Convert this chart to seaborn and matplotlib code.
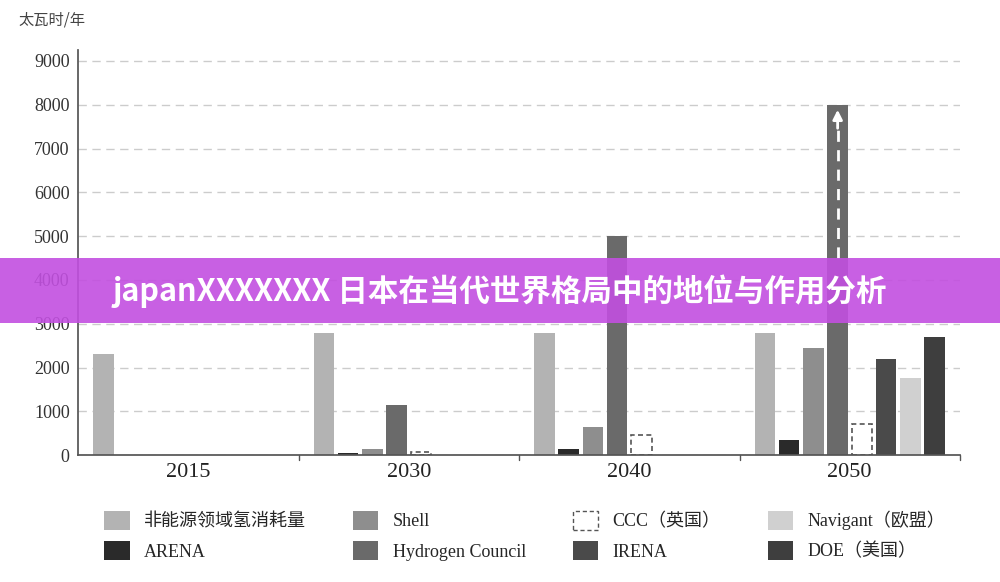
import numpy as np
import pandas as pd
import matplotlib
matplotlib.use('Agg')
import matplotlib.pyplot as plt
import seaborn as sns
from matplotlib.patches import Rectangle, Patch

sns.set_theme(style="white")
plt.rcParams['font.family'] = ['Liberation Serif', 'Noto Sans CJK SC', 'DejaVu Sans']

# data (TWh / year)
years = ["2015", "2030", "2040", "2050"]
series = ["非能源领域氢消耗量", "ARENA", "Shell", "Hydrogen Council",
          "CCC（英国）", "IRENA", "Navigant（欧盟）", "DOE（美国）"]
non_energy = [2300, 2800, 2800, 2800]
arena = [np.nan, 50, 150, 350]
shell = [np.nan, 150, 650, 2450]
hydrogen_council = [np.nan, 1150, 5000, 8000]
ccc = [np.nan, 80, 450, 700]
irena = [np.nan, np.nan, np.nan, 2200]
navigant = [np.nan, np.nan, np.nan, 1750]
doe = [np.nan, np.nan, np.nan, 2700]

values = [non_energy, arena, shell, hydrogen_council, ccc, irena, navigant, doe]
colors = ["#b3b3b3", "#2a2a2a", "#8e8e8e", "#6a6a6a", "#ffffff", "#4a4a4a", "#d0d0d0", "#3e3e3e"]

rows = []
for name, vals in zip(series, values):
    for y, v in zip(years, vals):
        rows.append({"year": y, "series": name, "value": v})
df = pd.DataFrame(rows)
df["value"] = df["value"].fillna(0)

fig = plt.figure(figsize=(10, 5.82), dpi=100)
ax = fig.add_axes([0.078, 0.218, 0.882, 0.696])
ax.set_facecolor("white")

sns.barplot(data=df, x="year", y="value", hue="series", hue_order=series,
            palette=colors, dodge=True, width=0.88, saturation=1,
            legend=False, ax=ax)

ccc_idx = series.index("CCC（英国）")
hc_idx = series.index("Hydrogen Council")
for s, cont in enumerate(ax.containers):
    for bar in cont:
        # leave a small gap between neighbouring bars
        w = bar.get_width()
        bar.set_x(bar.get_x() + w * 0.08)
        bar.set_width(w * 0.84)
        if bar.get_height() == 0:
            bar.set_visible(False)
            continue
        if s == ccc_idx:
            bar.set_facecolor("white")
            bar.set_edgecolor("#555555")
            bar.set_linestyle((0, (3, 2)))
            bar.set_linewidth(1.2)
        else:
            bar.set_edgecolor("none")

# arrow on Hydrogen Council 2050 bar
bar = ax.containers[hc_idx][3]
cx = bar.get_x() + bar.get_width() / 2
ax.plot([cx, cx], [4500, 7500], color="white", ls=(0, (4, 3)), lw=2, zorder=4)
ax.annotate("", xy=(cx, 7950), xytext=(cx, 7400), zorder=4,
            arrowprops=dict(arrowstyle="-|>", color="white", lw=2, mutation_scale=14))

ax.set_ylim(0, 9250)
ax.set_xlim(-0.5, 3.5)
ax.set_yticks(range(0, 9001, 1000))
ax.set_yticklabels(["0"] + [str(v) for v in range(1000, 9001, 1000)], fontsize=13, color="#333333")
ax.yaxis.grid(True, ls=(0, (6, 4)), color="#cccccc", lw=1)
ax.set_axisbelow(True)
ax.set_xlabel("")
ax.set_ylabel("")
ax.tick_params(axis="x", length=0, labelsize=16, colors="#222222", pad=6)
ax.tick_params(axis="y", length=0, pad=6)
for side in ["top", "right"]:
    ax.spines[side].set_visible(False)
ax.spines["left"].set_color("#555555")
ax.spines["bottom"].set_color("#555555")
for b in [0.5, 1.5, 2.5, 3.5]:
    ax.plot([b, b], [0, -120], color="#555555", lw=1, clip_on=False)

fig.text(0.018, 0.965, "太瓦时/年", fontsize=11, color="#444444",
         family=['Noto Sans CJK SC', 'DejaVu Sans'], va="center")

handles = []
for name, c in zip(series, colors):
    if name.startswith("CCC"):
        handles.append(Patch(facecolor="white", edgecolor="#555555", linestyle=(0, (3, 2)), label=name))
    else:
        handles.append(Patch(facecolor=c, edgecolor="none", label=name))
fig.legend(handles=handles, ncol=4, loc="upper left", bbox_to_anchor=(0.088, 0.15),
           frameon=False, handlelength=1.4, handleheight=1.2,
           columnspacing=2.6, labelspacing=0.6,
           prop={'family': ['Liberation Serif', 'Noto Sans CJK SC'], 'size': 13})

# overlay banner
fig.patches.append(Rectangle((0, 0.445), 1, 0.112, transform=fig.transFigure,
                             facecolor="#c24fe0", alpha=0.9, edgecolor="none", zorder=5))
fig.text(0.5, 0.499, "japanXXXXXXX 日本在当代世界格局中的地位与作用分析",
         ha="center", va="center", color="white", fontsize=22, fontweight="bold",
         family=['Noto Sans CJK SC', 'DejaVu Sans'], zorder=6)

fig.savefig("out.png", dpi=100)
